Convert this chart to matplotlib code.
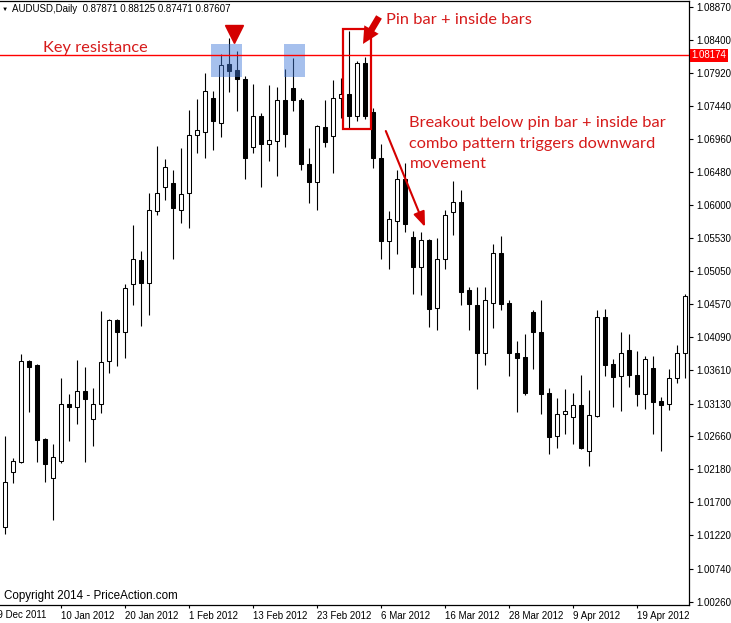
import numpy as np
import matplotlib
matplotlib.use("Agg")
import matplotlib.pyplot as plt
from matplotlib.patches import Rectangle
from matplotlib.transforms import blended_transform_factory

# ── Daily AUDUSD candles, 30 Dec 2011 .. 27 Apr 2012 ──
opens = [1.0134, 1.0214, 1.0228, 1.0374, 1.0369, 1.0262, 1.0205, 1.0230, 1.0312, 1.0308,
         1.0331, 1.0290, 1.0312, 1.0374, 1.0434, 1.0416, 1.0486, 1.0521, 1.0488, 1.0592,
         1.0627, 1.0633, 1.0594, 1.0618, 1.0702, 1.0707, 1.0755, 1.0720, 1.0805, 1.0796,
         1.0783, 1.0684, 1.0730, 1.0689, 1.0693, 1.0753, 1.0770, 1.0753, 1.0660, 1.0634,
         1.0713, 1.0701, 1.0755, 1.0762, 1.0729, 1.0807, 1.0736, 1.0668, 1.0549, 1.0578,
         1.0639, 1.0555, 1.0511, 1.0550, 1.0451, 1.0522, 1.0590, 1.0605, 1.0478, 1.0456,
         1.0387, 1.0459, 1.0531, 1.0458, 1.0387, 1.0381, 1.0446, 1.0416, 1.0328, 1.0266,
         1.0298, 1.0294, 1.0311, 1.0245, 1.0295, 1.0438, 1.0370, 1.0353, 1.0390, 1.0355,
         1.0327, 1.0364, 1.0317, 1.0312, 1.0350, 1.0386]
highs = [1.0266, 1.0234, 1.0385, 1.0376, 1.0370, 1.0263, 1.0254, 1.0350, 1.0327, 1.0376,
         1.0366, 1.0335, 1.0447, 1.0435, 1.0435, 1.0486, 1.0572, 1.0534, 1.0618, 1.0686,
         1.0667, 1.0651, 1.0683, 1.0738, 1.0754, 1.0792, 1.0766, 1.0820, 1.0842, 1.0823,
         1.0788, 1.0776, 1.0734, 1.0774, 1.0771, 1.0798, 1.0813, 1.0755, 1.0683, 1.0717,
         1.0753, 1.0782, 1.0784, 1.0853, 1.0809, 1.0815, 1.0741, 1.0689, 1.0592, 1.0652,
         1.0661, 1.0563, 1.0561, 1.0552, 1.0553, 1.0594, 1.0635, 1.0622, 1.0482, 1.0482,
         1.0482, 1.0544, 1.0556, 1.0463, 1.0403, 1.0414, 1.0449, 1.0463, 1.0335, 1.0321,
         1.0334, 1.0329, 1.0354, 1.0332, 1.0449, 1.0450, 1.0378, 1.0416, 1.0414, 1.0389,
         1.0382, 1.0382, 1.0323, 1.0363, 1.0398, 1.0472]
lows = [1.0124, 1.0198, 1.0227, 1.0301, 1.0229, 1.0200, 1.0144, 1.0227, 1.0259, 1.0283,
        1.0229, 1.0252, 1.0300, 1.0357, 1.0367, 1.0379, 1.0456, 1.0426, 1.0442, 1.0586,
        1.0608, 1.0523, 1.0574, 1.0567, 1.0676, 1.0669, 1.0680, 1.0699, 1.0765, 1.0737,
        1.0638, 1.0676, 1.0626, 1.0665, 1.0643, 1.0685, 1.0737, 1.0652, 1.0603, 1.0594,
        1.0685, 1.0647, 1.0726, 1.0712, 1.0722, 1.0725, 1.0654, 1.0523, 1.0508, 1.0529,
        1.0562, 1.0472, 1.0470, 1.0424, 1.0420, 1.0508, 1.0557, 1.0456, 1.0419, 1.0334,
        1.0369, 1.0423, 1.0449, 1.0353, 1.0301, 1.0326, 1.0363, 1.0298, 1.0240, 1.0249,
        1.0269, 1.0254, 1.0247, 1.0223, 1.0294, 1.0353, 1.0308, 1.0303, 1.0337, 1.0310,
        1.0305, 1.0269, 1.0245, 1.0304, 1.0343, 1.0350]
closes = [1.0199, 1.0230, 1.0375, 1.0366, 1.0260, 1.0225, 1.0235, 1.0312, 1.0308, 1.0331,
          1.0319, 1.0312, 1.0373, 1.0434, 1.0416, 1.0481, 1.0522, 1.0488, 1.0594, 1.0618,
          1.0655, 1.0596, 1.0616, 1.0702, 1.0709, 1.0766, 1.0723, 1.0804, 1.0795, 1.0783,
          1.0669, 1.0730, 1.0689, 1.0695, 1.0753, 1.0703, 1.0752, 1.0660, 1.0634, 1.0715,
          1.0692, 1.0755, 1.0762, 1.0729, 1.0806, 1.0729, 1.0668, 1.0549, 1.0580, 1.0639,
          1.0573, 1.0511, 1.0550, 1.0450, 1.0523, 1.0586, 1.0605, 1.0475, 1.0457, 1.0387,
          1.0463, 1.0531, 1.0457, 1.0386, 1.0379, 1.0328, 1.0416, 1.0327, 1.0265, 1.0298,
          1.0302, 1.0311, 1.0248, 1.0296, 1.0438, 1.0369, 1.0352, 1.0387, 1.0355, 1.0327,
          1.0378, 1.0316, 1.0311, 1.0350, 1.0386, 1.0469]

# ── Axis labels ──
date_pos = [7, 15, 23, 31, 39, 47, 55, 63, 71, 79]
date_labels = ["10 Jan 2012", "20 Jan 2012", "1 Feb 2012", "13 Feb 2012", "23 Feb 2012",
               "6 Mar 2012", "16 Mar 2012", "28 Mar 2012", "9 Apr 2012", "19 Apr 2012"]
first_label = "29 Dec 2011"
price_labels = ["1.00260", "1.00740", "1.01220", "1.01700", "1.02180", "1.02660", "1.03130",
                "1.03610", "1.04090", "1.04570", "1.05050", "1.05530", "1.06000", "1.06480",
                "1.06960", "1.07440", "1.07920", "1.08400", "1.08870"]
resistance = 1.08174

RED = "#d61a1a"
plt.rcParams["font.family"] = ["Liberation Sans", "DejaVu Sans"]

o = np.array(opens); h = np.array(highs); l = np.array(lows); c = np.array(closes)
x = np.arange(len(o))
bull = c >= o

W, H = 731, 623
fig = plt.figure(figsize=(W / 100, H / 100), dpi=100)
ax = fig.add_axes([0, 18 / H, 689 / W, 604 / H])
ax.set_xlim(-0.625, 85.5)
ax.set_ylim(1.00213, 1.08961)

# ── Candles ──
ax.vlines(x, l, h, color="black", linewidth=0.8, zorder=2)
ax.bar(x, np.abs(c - o), bottom=np.minimum(o, c), width=0.5,
       color=np.where(bull, "white", "black"), edgecolor="black", linewidth=0.75, zorder=3)

# ── Annotations ──
for x0, w in [(25.75, 3.85), (34.9, 2.6)]:
    ax.add_patch(Rectangle((x0, 1.07865), w, 0.00469, facecolor="#437ad9",
                           edgecolor="none", alpha=0.47, zorder=4))
ax.axhline(resistance, color="red", linewidth=1, zorder=5)
ax.add_patch(Rectangle((42.25, 1.07107), 3.5, 0.01449, fill=False,
                       edgecolor="#dd0000", linewidth=1.6, zorder=6))
ax.plot([28.6], [1.08476], marker="v", markersize=13, color="#d40000",
        linestyle="none", zorder=6, clip_on=False)

ax.annotate("", xy=(44.75, 1.08339), xytext=(46.75, 1.08730),
            arrowprops=dict(arrowstyle="simple,head_length=1.0,head_width=1.0,tail_width=0.4",
                            color="#d40000", lw=0, shrinkA=0, shrinkB=0, mutation_scale=12),
            zorder=7)
ax.annotate("", xy=(52.5, 1.05688), xytext=(47.6, 1.07078),
            arrowprops=dict(arrowstyle="-|>,head_length=0.6,head_width=0.23",
                            color="#d40000", lw=1.5, shrinkA=0, shrinkB=0, mutation_scale=15),
            zorder=7)

red_font = dict(family="Lato", fontsize=11.8, color=RED)
ax.text(4.75, 1.08223, "Key resistance", va="baseline", ha="left", zorder=7, **red_font)
ax.text(47.6, 1.08630, "Pin bar + inside bars", va="baseline", ha="left", zorder=7, **red_font)
ax.text(50.55, 1.07300, "Breakout below pin bar + inside bar\ncombo pattern triggers downward\nmovement",
        va="top", ha="left", linespacing=1.62, zorder=7, **red_font)

# ── Axes styling ──
ax.yaxis.tick_right()
ax.set_yticks([float(s) for s in price_labels])
ax.set_yticklabels(price_labels)
ax.set_xticks(date_pos)
ax.set_xticklabels(date_labels, ha="left")
ax.tick_params(axis="y", direction="out", length=3, width=0.8, pad=2, labelsize=7)
ax.tick_params(axis="x", direction="out", length=2.5, width=0.8, pad=1.5, labelsize=7)
ax.spines["left"].set_visible(False)
for s in ["top", "right", "bottom"]:
    ax.spines[s].set_linewidth(0.9)

# first date label sits left of the visible window and is clipped by the figure edge
trans = blended_transform_factory(ax.transData, ax.transAxes)
ax.text(-1.6, -0.0085, first_label, transform=trans, fontsize=7, va="top", ha="left",
        clip_on=False)

trans_y = blended_transform_factory(ax.transAxes, ax.transData)
ax.text(1.004, resistance, "1.08174", transform=trans_y, fontsize=7, color="white",
        va="center", ha="left", clip_on=False, zorder=8,
        bbox=dict(boxstyle="square,pad=0.18", facecolor="red", edgecolor="none"))

fig.text(1.5 / W, 1 - 9 / H, "▼", fontsize=4.5, va="center", ha="left")
fig.text(12.5 / W, 1 - 8.5 / H, "AUDUSD,Daily  0.87871 0.88125 0.87471 0.87607",
         fontsize=7, va="center", ha="left")
fig.text(4 / W, 1 - 596 / H, "Copyright 2014 - PriceAction.com", fontsize=8.4,
         va="center", ha="left")

fig.savefig("out.png", dpi=100)
